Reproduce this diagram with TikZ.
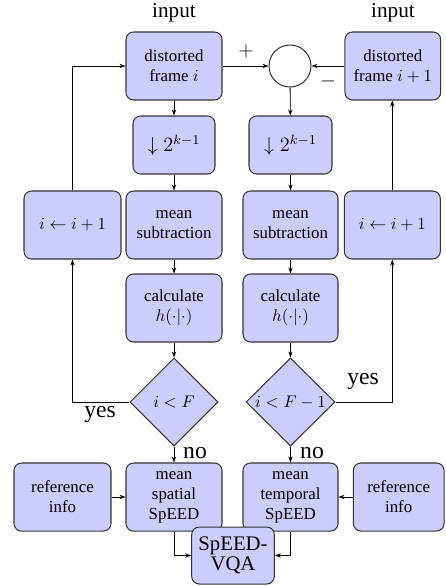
\documentclass[tikz,border=0pt]{standalone}
\usepackage[no-math]{fontspec}
\setmainfont{Liberation Serif}
\usetikzlibrary{arrows.meta,shapes.geometric}
\newlength\pxu
\setlength\pxu{0.593pt}
\definecolor{boxfill}{RGB}{204,204,255}
\tikzset{
  blk/.style={rectangle, rounded corners=4.5pt, draw=black!80, fill=boxfill, line width=0.6pt,
    align=center, inner sep=0pt, font=\fontsize{10}{11.9}\selectfont},
  dia/.style={diamond, draw=black!80, fill=boxfill, line width=0.6pt, inner sep=0pt,
    font=\fontsize{10}{12}\selectfont},
  conn/.style={-{Stealth[length=3.6pt,width=2.6pt]}, line width=0.5pt},
  lbl/.style={inner sep=0pt, font=\fontsize{14}{16}\selectfont},
  inlbl/.style={inner sep=0pt, font=\fontsize{12.6}{14}\selectfont},
}
\begin{document}
\begin{tikzpicture}[x=0.593pt, y=-0.593pt]
\useasboundingbox (0,0) rectangle (445,586);
% top row
\node[blk, minimum width=96*\pxu, minimum height=68*\pxu] (f1) at (174,66) {distorted\\frame $i$};
\node[circle, draw=black!80, fill=white, line width=0.6pt, minimum size=42*\pxu, inner sep=0pt] (circ) at (290,66) {};
\node[blk, minimum width=95.7*\pxu, minimum height=68*\pxu] (f2) at (392.8,66) {distorted\\frame $i+1$};
\node[inlbl] (in1) at (174,13) {input};
\node[inlbl] (in2) at (393,13) {input};
\node[inner sep=0pt, font=\large] (plus) at (246,51) {$+$};
\node[inner sep=0pt, font=\large] (minus) at (328,81) {$-$};
% downsample
\node[blk, minimum width=82*\pxu, minimum height=58*\pxu, font=\large] (d1) at (174,145) {$\downarrow 2^{k-1}$};
\node[blk, minimum width=83*\pxu, minimum height=58*\pxu, font=\large] (d2) at (290.5,145) {$\downarrow 2^{k-1}$};
% mean subtraction row
\node[blk, minimum width=97*\pxu, minimum height=68*\pxu] (inc1) at (72.5,225) {$i\leftarrow i+1$};
\node[blk, minimum width=96*\pxu, minimum height=68*\pxu] (m1) at (174,225) {mean\\subtraction};
\node[blk, minimum width=95*\pxu, minimum height=68*\pxu] (m2) at (290.5,225) {mean\\subtraction};
\node[blk, minimum width=96*\pxu, minimum height=68*\pxu] (inc2) at (392.3,225) {$i\leftarrow i+1$};
% calculate
\node[blk, minimum width=96*\pxu, minimum height=68*\pxu] (c1) at (174,308) {calculate\\$h(\cdot|\cdot)$};
\node[blk, minimum width=95*\pxu, minimum height=68*\pxu] (c2) at (290.5,308) {calculate\\$h(\cdot|\cdot)$};
% decisions
\node[dia, minimum width=88*\pxu, minimum height=88*\pxu] (q1) at (174,402) {$i<F$};
\node[dia, minimum width=89*\pxu, minimum height=88*\pxu] (q2) at (290.5,402) {$i<F-1$};
% bottom row
\node[blk, minimum width=97*\pxu, minimum height=68*\pxu] (r1) at (62.5,497) {reference\\info};
\node[blk, minimum width=96*\pxu, minimum height=68*\pxu] (s1) at (174,497) {mean\\spatial\\SpEED};
\node[blk, minimum width=95*\pxu, minimum height=68*\pxu] (s2) at (290.5,497) {mean\\temporal\\SpEED};
\node[blk, minimum width=90.7*\pxu, minimum height=68*\pxu] (r2) at (398.7,497) {reference\\info};
\node[blk, minimum width=82.6*\pxu, minimum height=57*\pxu, font=\fontsize{12.3}{10.7}\selectfont] (v) at (233,555.5) {SpEED-\\VQA};
% labels
\node[lbl] (yes1) at (100,414) {yes};
\node[lbl] (yes2) at (363,381) {yes};
\node[lbl] (no1) at (195,453) {no};
\node[lbl] (no2) at (312,453) {no};
% connectors
\draw[conn] (f1) -- (d1);
\draw[conn] (d1) -- (m1);
\draw[conn] (m1) -- (c1);
\draw[conn] (c1) -- (q1);
\draw[conn] (q1) -- (s1);
\draw[conn] (f1.east) -- (circ.west);
\draw[conn] (f2.west) -- (circ.east);
\draw[conn] (circ) -- (d2);
\draw[conn] (d2) -- (m2);
\draw[conn] (m2) -- (c2);
\draw[conn] (c2) -- (q2);
\draw[conn] (q2) -- (s2);
\draw[conn] (q1.west) -| (inc1.south);
\draw[conn] (inc1.north) |- (f1.west);
\draw[conn] (q2.east) -| (inc2.south);
\draw[conn] (inc2.north) -- (inc2.north |- f2.south);
\draw[conn] (r1.east) -- (s1.west);
\draw[conn] (r2.west) -- (s2.east);
\draw[conn] (s1.south) |- (v.west);
\draw[conn] (s2.south) |- (v.east);
\end{tikzpicture}
\end{document}
